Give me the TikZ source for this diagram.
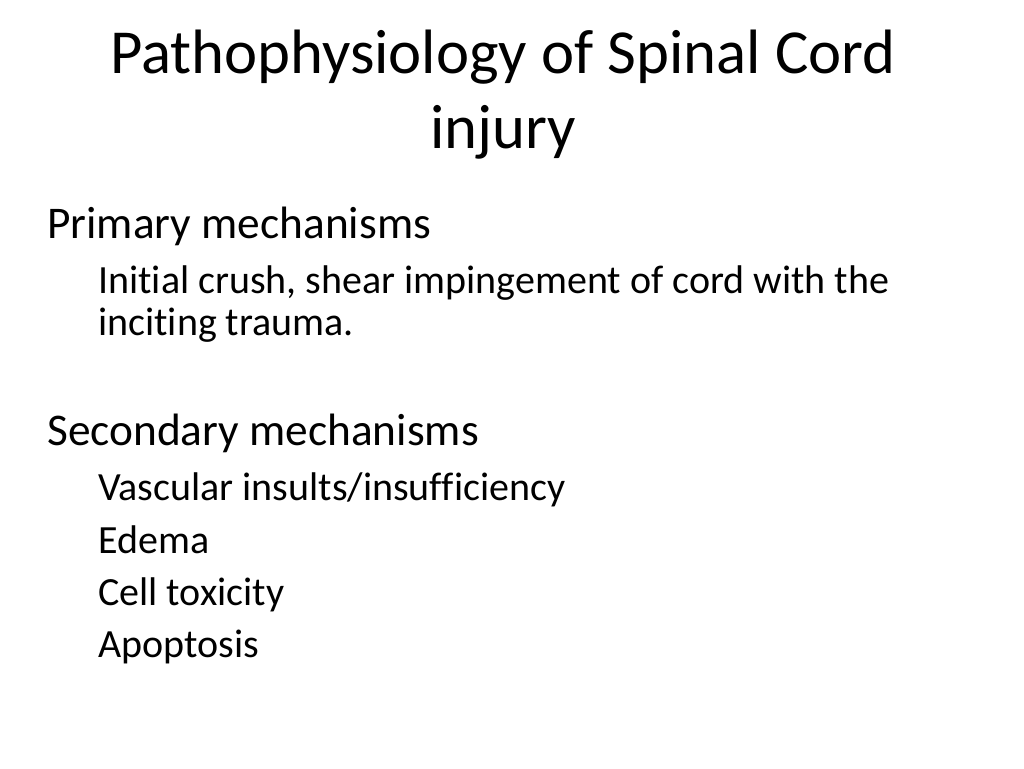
\documentclass[tikz,border=0pt]{standalone}
\usepackage{fontspec}
\setmainfont[Ligatures=NoCommon]{Carlito}
\begin{document}
\begin{tikzpicture}[x=0.75pt,y=-0.75pt,
  ttl/.style={font=\fontsize{47}{56}\selectfont,anchor=mid},
  lvl/.style={font=\fontsize{34}{40}\selectfont,anchor=mid west,inner sep=0pt},
  sub/.style={font=\fontsize{30}{36}\selectfont,anchor=mid west,inner sep=0pt}]
\useasboundingbox (0,0) rectangle (1024,768);
\node[ttl] (t1) at (503,70) {Pathophysiology of Spinal Cord};
\node[ttl] (t2) at (503,145) {injury};
\node[lvl] (p) at (47,235) {Primary mechanisms};
\node[sub] (p1) at (98,290) {Initial crush, shear impingement of cord with the};
\node[sub] (p2) at (98,332) {inciting trauma.};
\node[lvl] (s) at (47,442) {Secondary mechanisms};
\node[sub] (s1) at (98,497) {Vascular insults/insufficiency};
\node[sub] (s2) at (98,550) {Edema};
\node[sub] (s3) at (98,602) {Cell toxicity};
\node[sub] (s4) at (98,654) {Apoptosis};
\end{tikzpicture}
\end{document}
